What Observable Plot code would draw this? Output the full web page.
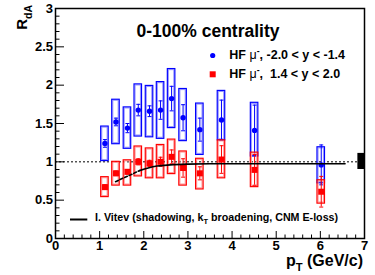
<!DOCTYPE html>
<html>
<head>
<meta charset="utf-8">
<script src="https://cdn.jsdelivr.net/npm/d3@7"></script>
<script src="https://cdn.jsdelivr.net/npm/@observablehq/plot@0.6"></script>
<style>
  html, body { margin: 0; padding: 0; background: #fff; }
  svg { display: block; }
</style>
</head>
<body>
<div id="chart"></div>
<script>
// ---- data ----
const pt       = [1.12, 1.37, 1.63, 1.875, 2.13, 2.38, 2.63, 2.89, 3.27, 3.76, 4.51, 6.02];
// HF mu-, -2.0 < y < -1.4 (blue)
const rdaBwd   = [1.24, 1.52, 1.44, 1.675, 1.66, 1.675, 1.825, 1.575, 1.42, 1.545, 1.41, 0.96];
const statBwd  = [0.05, 0.05, 0.06, 0.075, 0.07, 0.12, 0.16, 0.17, 0.15, 0.26, 0.33, 0.26];
const sysBwdLo = [1.01, 1.23, 1.17, 1.33, 1.32, 1.30, 1.44, 1.27, 1.09, 1.28, 1.07, 0.72];
const sysBwdHi = [1.46, 1.81, 1.71, 2.01, 1.99, 2.04, 2.21, 1.95, 1.76, 1.925, 1.77, 1.19];
// HF mu-, 1.4 < y < 2.0 (red)
const rdaFwd   = [0.67, 0.85, 0.87, 1.00, 0.98, 1.00, 1.065, 0.92, 0.85, 1.03, 0.895, 0.61];
const statFwd  = [0.03, 0.03, 0.03, 0.04, 0.04, 0.06, 0.09, 0.12, 0.085, 0.18, 0.20, 0.20];
const sysFwdLo = [0.54, 0.69, 0.69, 0.81, 0.785, 0.785, 0.84, 0.69, 0.64, 0.785, 0.67, 0.455];
const sysFwdHi = [0.80, 1.00, 1.02, 1.20, 1.175, 1.22, 1.29, 1.135, 1.04, 1.28, 1.12, 0.76];
// I. Vitev calculation
const vitevPtA = [1.36, 1.5, 1.7, 1.9];
const vitevRA  = [0.74, 0.78, 0.83, 0.885];
const vitevPtB = [1.9, 2.1, 2.3, 2.6, 3.0, 3.5, 4.5, 5.5, 6.56];
const vitevRB  = [0.885, 0.92, 0.945, 0.96, 0.97, 0.975, 0.975, 0.975, 0.975];
// global normalisation uncertainty box
const normPt = [6.85, 7.0];
const normR  = [0.90, 1.11];
// axes
const xTickLabels = ["0", "1", "2", "3", "4", "5", "6", "7"];
const yTickLabels = ["0", "0.5", "1", "1.5", "2", "2.5", "3"];
// texts
const titleText = "0-100% centrality";
const legBwd = ", -2.0 < y < -1.4";
const legFwd = ",\u00A0 1.4 < y < 2.0";
const vitevA = "I. Vitev (shadowing, k";
const vitevB = " broadening, CNM E-loss)";

// ---- layout ----
const W = 375, H = 275, ML = 55, MR = 11, MT = 8, MB = 37;
const PW = W - ML - MR, PH = H - MT - MB;
const FONT = "'Liberation Sans', Arial, Helvetica, sans-serif";
const BLUE = "#0000ff", BLUE2 = "#9a9aff", RED = "#ff0000", RED2 = "#ff9a9a";
const HW = 0.085; // half-width of systematic boxes

const bwd = pt.map((x, i) => ({x, y: rdaBwd[i], e: statBwd[i], lo: sysBwdLo[i], hi: sysBwdHi[i]}));
const fwd = pt.map((x, i) => ({x, y: rdaFwd[i], e: statFwd[i], lo: sysFwdLo[i], hi: sysFwdHi[i]}));
const curveA = vitevPtA.map((x, i) => ({x, y: vitevRA[i]}));
const curveB = vitevPtB.map((x, i) => ({x, y: vitevRB[i]}));
const norm = [{x1: normPt[0], x2: normPt[1], y1: normR[0], y2: normR[1]}];

const xMajor = xTickLabels.map(Number);
const yMajor = yTickLabels.map(Number);
const xMinor = d3.range(0, 7.001, 0.2).filter(v => Math.abs(v - Math.round(v)) > 1e-6);
const yMinor = d3.range(0, 3.001, 0.1).filter(v => Math.abs(v * 2 - Math.round(v * 2)) > 1e-6);

const cap = {draw(ctx) { ctx.moveTo(-2, 0); ctx.lineTo(2, 0); }};

function seriesMarks(data, c, c2, symbol, r) {
  return [
    Plot.rect(data, {x1: d => d.x - HW, x2: d => d.x + HW, y1: "lo", y2: "hi", inset: 1.1, fill: "none", stroke: c2, strokeWidth: 1}),
    Plot.rect(data, {x1: d => d.x - HW, x2: d => d.x + HW, y1: "lo", y2: "hi", fill: "none", stroke: c, strokeWidth: 1.2}),
    Plot.ruleX(data, {x: "x", y1: d => d.y - d.e, y2: d => d.y + d.e, stroke: c, strokeWidth: 1}),
    Plot.dot(data, {x: "x", y: d => d.y - d.e, symbol: cap, stroke: c, strokeWidth: 1}),
    Plot.dot(data, {x: "x", y: d => d.y + d.e, symbol: cap, stroke: c, strokeWidth: 1}),
    Plot.dot(data, {x: "x", y: "y", symbol, r, fill: c, stroke: "none"})
  ];
}

function richText(g, {x, y, size, anchor = "start", rotate = 0, parts}) {
  const t = g.append("text")
    .attr("transform", `translate(${x},${y}) rotate(${rotate})`)
    .attr("font-size", size).attr("font-weight", "bold")
    .attr("text-anchor", anchor).attr("fill", "black");
  let shift = 0;
  for (const p of parts) {
    const s = t.append("tspan").text(p.t);
    let target = 0;
    if (p.sub) { s.attr("font-size", size * 0.7); target = size * 0.32; }
    if (p.sup) { s.attr("font-size", size * 0.7); target = -size * 0.4; }
    if (p.normal) s.attr("font-weight", "normal");
    if (target !== shift) { s.attr("dy", target - shift); shift = target; }
  }
  return t;
}

function annotations(index, scales, values, dims) {
  const g = d3.create("svg:g").attr("font-family", FONT);
  // axis titles
  richText(g, {x: 27, y: 5, size: 15, anchor: "end", rotate: -90, parts: [{t: "R"}, {t: "dA", sub: true}]});
  richText(g, {x: 363, y: 266, size: 16, anchor: "end", parts: [{t: "p"}, {t: "T", sub: true}, {t: " (GeV/c)"}]});
  // legend
  g.append("text").attr("x", 208).attr("y", 36.5).attr("font-size", 17.5).attr("font-weight", "bold").text(titleText);
  g.append("circle").attr("cx", 212.7).attr("cy", 55.5).attr("r", 2.6).attr("fill", BLUE);
  g.append("rect").attr("x", 209.7).attr("y", 71.3).attr("width", 6).attr("height", 6).attr("fill", RED);
  richText(g, {x: 229.3, y: 59.3, size: 12.5, parts: [{t: "HF "}, {t: "\u03bc", normal: true}, {t: "-", sup: true}, {t: legBwd}]});
  richText(g, {x: 229.3, y: 78, size: 12.5, parts: [{t: "HF "}, {t: "\u03bc", normal: true}, {t: "-", sup: true}, {t: legFwd}]});
  g.append("line").attr("x1", 70).attr("x2", 87.3).attr("y1", 219.5).attr("y2", 219.5).attr("stroke", "black").attr("stroke-width", 2);
  richText(g, {x: 95, y: 221, size: 10.7, parts: [{t: vitevA}, {t: "T", sub: true}, {t: vitevB}]});
  return g.node();
}

const plot = Plot.plot({
  width: W, height: H,
  marginLeft: ML, marginRight: MR, marginTop: MT, marginBottom: MB,
  x: {domain: [0, 7], axis: null},
  y: {domain: [0, 3], axis: null},
  style: {fontFamily: FONT, background: "white", color: "black", overflow: "visible"},
  marks: [
    Plot.ruleY([1], {stroke: "black", strokeWidth: 1, strokeDasharray: "2,2"}),
    ...seriesMarks(bwd, BLUE, BLUE2, "circle", 2.7),
    ...seriesMarks(fwd, RED, RED2, "square", 3.4),
    Plot.line(curveA, {x: "x", y: "y", stroke: "black", strokeWidth: 1.6, strokeDasharray: "3,2"}),
    Plot.line(curveB, {x: "x", y: "y", stroke: "black", strokeWidth: 1.6, curve: "monotone-x"}),
    Plot.rect(norm, {x1: "x1", x2: "x2", y1: "y1", y2: "y2", fill: "black"}),
    // ticks (inward, ROOT style)
    Plot.tickY(yMajor, {y: d => d, insetRight: PW - 9, stroke: "black", strokeWidth: 1}),
    Plot.tickY(yMinor, {y: d => d, insetRight: PW - 4.5, stroke: "black", strokeWidth: 1}),
    Plot.tickX(xMajor, {x: d => d, insetTop: PH - 7, stroke: "black", strokeWidth: 1}),
    Plot.tickX(xMinor, {x: d => d, insetTop: PH - 3.5, stroke: "black", strokeWidth: 1}),
    Plot.frame({stroke: "black", strokeWidth: 1.5}),
    // tick labels
    Plot.text(yTickLabels, {y: d => +d, text: d => d, frameAnchor: "left", textAnchor: "end", dx: -2.5, fontSize: 13, fontWeight: "bold", fill: "black"}),
    Plot.text(xTickLabels, {x: d => +d, text: d => d, frameAnchor: "bottom", lineAnchor: "top", dy: 2, fontSize: 13, fontWeight: "bold", fill: "black"}),
    annotations
  ]
});
document.getElementById("chart").appendChild(plot);
</script>
</body>
</html>
